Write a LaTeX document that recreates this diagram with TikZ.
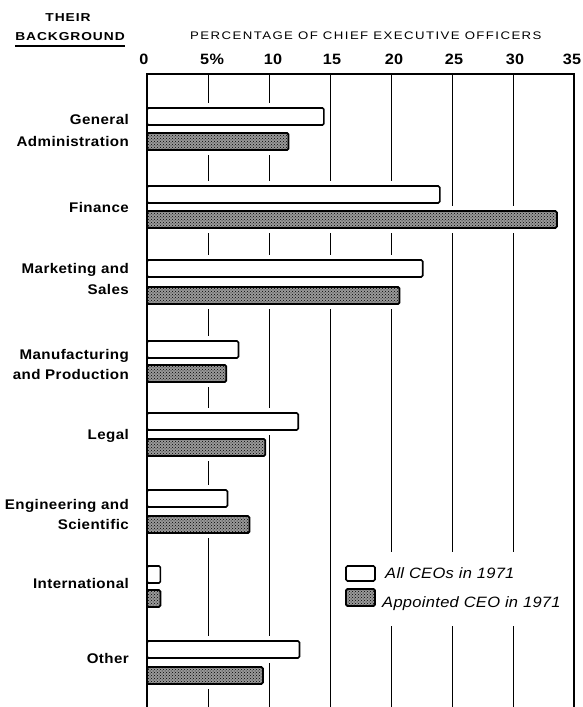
\documentclass[tikz,border=0pt]{standalone}
\usepackage{fontspec}
\setmainfont{Liberation Sans}
\newfontfamily\labfont{Liberation Sans}[FakeStretch=1.08,LetterSpace=3]
\newfontfamily\hdrfont{Liberation Sans}[FakeStretch=1.2,LetterSpace=13]
\newfontfamily\tagfont{Liberation Sans}[FakeStretch=1.2,LetterSpace=8]
\newfontfamily\keyfont{Liberation Sans}[FakeStretch=1.1,LetterSpace=2]
\usetikzlibrary{patterns}

\begin{document}
\begin{tikzpicture}[x=1pt,y=-1pt,
  gridline/.style={draw=black, line width=0.9pt},
  frameline/.style={draw=black, line width=1.4pt},
  halo/.style={fill=white},
  whitebar/.style={draw=black, line width=1.6pt, fill=white, rounded corners=1.5pt},
  hatchbar/.style={draw=black, line width=1.8pt, rounded corners=1.5pt,
                   preaction={fill=black!40}, pattern=crosshatch dots, pattern color=black},
  catlabel/.style={anchor=base east, inner sep=0pt, font=\labfont\bfseries\fontsize{14}{16}\selectfont},
  ticklabel/.style={anchor=base, inner sep=0pt, font=\labfont\bfseries\fontsize{15}{17}\selectfont},
  hdrlabel/.style={inner sep=0pt, font=\hdrfont\fontsize{11}{13}\selectfont},
  taglabel/.style={anchor=base, inner sep=0pt, font=\tagfont\bfseries\fontsize{11.5}{13}\selectfont},
  keylabel/.style={anchor=base west, inner sep=0pt, font=\keyfont\itshape\fontsize{15}{17}\selectfont}]
\useasboundingbox (0,0) rectangle (582,707);

% column headings
\node[taglabel] (their) at (68,21) {THEIR};
\node[taglabel] (background) at (70,40) {BACKGROUND};
\draw[line width=1.3pt] (15,46) -- (125,46);
\node[hdrlabel, anchor=base west] (pct) at (190,39.5) {PERCENTAGE OF CHIEF EXECUTIVE OFFICERS};

% scale numbers
\node[ticklabel] (t0)  at (144,64) {0};
\node[ticklabel] (t5)  at (212,64) {5\%};
\node[ticklabel] (t10) at (273,64) {10};
\node[ticklabel] (t15) at (332,64) {15};
\node[ticklabel] (t20) at (394,64) {20};
\node[ticklabel] (t25) at (454,64) {25};
\node[ticklabel] (t30) at (515,64) {30};
\node[ticklabel] (t35) at (572,64) {35};

% grid and frame
\foreach \v in {5,10,...,30}
  \draw[gridline] ({147+12.2*\v},74) -- ({147+12.2*\v},707);
\draw[frameline] (147,707) -- (147,74) -- (574,74) -- (574,707);

% bars: top of open bar / top of shaded bar / open value / shaded value
\foreach \wy/\hy/\wv/\hv in {108/133/14.5/11.6, 186/211/24.0/33.6, 260/287/22.6/20.7,
                             341/365/7.5/6.5, 413/439/12.4/9.7, 490/516/6.6/8.4,
                             566/590/1.1/1.1, 641/667/12.5/9.5} {
  \fill[halo] (148,\wy-5) rectangle ({147+12.2*\wv+0.8},\wy+22);
  \fill[halo] (148,\hy-5) rectangle ({147+12.2*\hv+0.8},\hy+22);
  \draw[whitebar] (147,\wy) rectangle ({147+12.2*\wv},\wy+17);
  \draw[hatchbar] (147,\hy) rectangle ({147+12.2*\hv},\hy+17);
}

% category names
\node[catlabel] (ga1) at (129,124) {General};
\node[catlabel] (ga2) at (129,146) {Administration};
\node[catlabel] (fin) at (129,212) {Finance};
\node[catlabel] (ms1) at (129,273) {Marketing and};
\node[catlabel] (ms2) at (129,294) {Sales};
\node[catlabel] (mp1) at (129,359) {Manufacturing};
\node[catlabel] (mp2) at (129,379) {and Production};
\node[catlabel] (leg) at (129,439) {Legal};
\node[catlabel] (es1) at (129,509) {Engineering and};
\node[catlabel] (es2) at (129,529) {Scientific};
\node[catlabel] (int) at (129,588) {International};
\node[catlabel] (oth) at (129,663) {Other};

% key
\fill[halo] (338,552) rectangle (567,626);
\draw[whitebar] (346,566) rectangle (375,581);
\draw[hatchbar] (346,589) rectangle (375,606);
\node[keylabel] (keyall) at (385,578) {All CEOs in 1971};
\node[keylabel] (keyapp) at (382,607) {Appointed CEO in 1971};
\end{tikzpicture}
\end{document}
